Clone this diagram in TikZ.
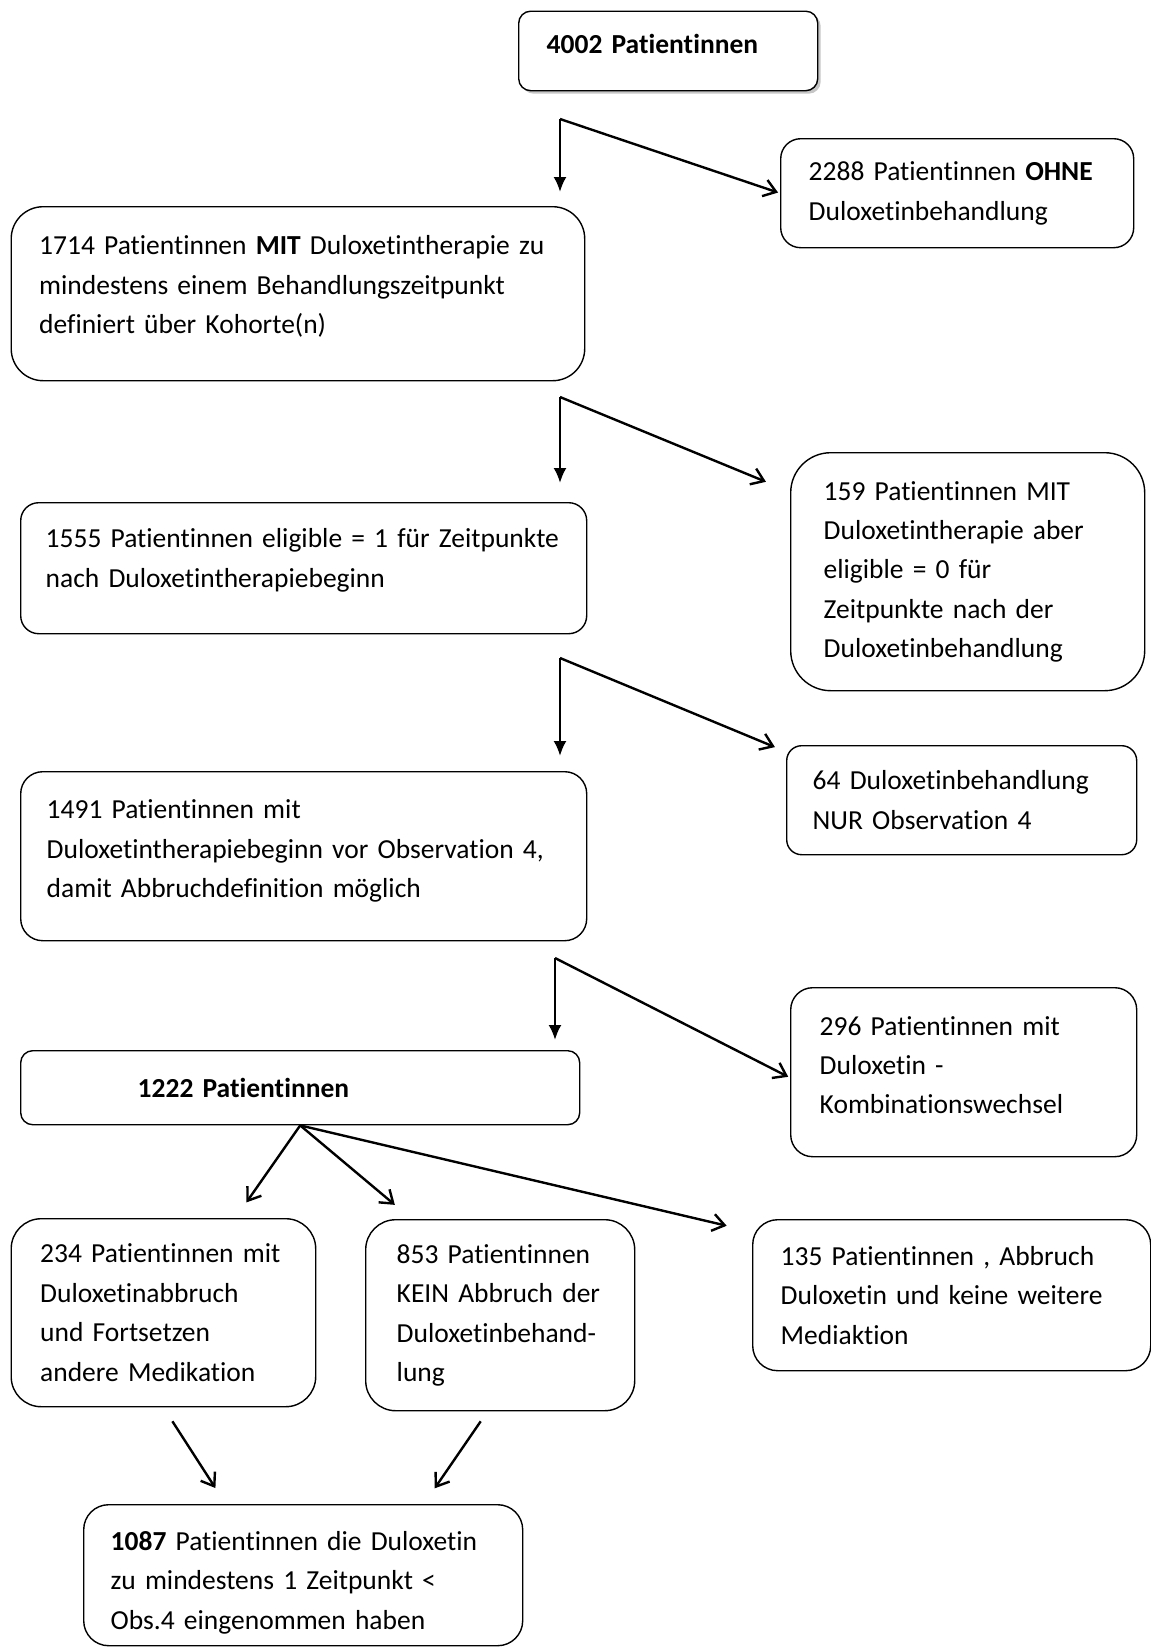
\documentclass[tikz,border=0pt]{standalone}
\usepackage{fontspec}
\setmainfont[Ligatures=NoCommon]{Carlito}
\usetikzlibrary{arrows.meta,shadows}
\newcommand{\padbottom}[1]{\par\vspace{#1}\hrule height0pt width0pt}

\begin{document}
\begin{tikzpicture}[x=1pt,y=-1pt,
  flowbox/.style={draw, fill=white, line width=1.4pt, rounded corners=22pt, anchor=north west,
    align=left, inner xsep=28pt, inner ysep=4pt, font=\fontsize{27.5}{39.4}\selectfont},
  downarrow/.style={line width=2.4pt, -{Latex[length=15pt,width=13pt]}},
  sidearrow/.style={line width=2.4pt, -{Straight Barb[length=12pt,width=17pt]}}]
\useasboundingbox (0,0) rectangle (1151,1647);

% boxes
\node [flowbox, rounded corners=12pt, text width=243pt, minimum height=79.5pt,
  drop shadow={opacity=0.45, shadow xshift=3pt, shadow yshift=-3pt}] (n4002) at (518,10.5)
  {\textbf{4002 Patientinnen}\padbottom{14pt}};
\node [flowbox, rounded corners=20pt, text width=297pt, minimum height=109pt] (n2288) at (780,138)
  {2288 Patientinnen \textbf{OHNE}\\Duloxetinbehandlung};
\node [flowbox, rounded corners=32pt, text width=517.5pt, minimum height=174pt] (n1714) at (10.5,206)
  {1714 Patientinnen \textbf{MIT} Duloxetintherapie zu\\mindestens einem Behandlungszeitpunkt\\definiert über Kohorte(n)\padbottom{14pt}};
\node [flowbox, rounded corners=40pt, inner xsep=33pt, text width=288pt, minimum height=238pt] (n159) at (790,452)
  {159 Patientinnen MIT\\Duloxetintherapie aber\\eligible = 0 für\\Zeitpunkte nach der\\Duloxetinbehandlung};
\node [flowbox, rounded corners=18pt, inner xsep=25pt, text width=516pt, minimum height=131pt] (n1555) at (20,502)
  {1555 Patientinnen eligible = 1 für Zeitpunkte\\nach Duloxetintherapiebeginn\padbottom{16pt}};
\node [flowbox, rounded corners=15pt, inner xsep=26pt, text width=298pt, minimum height=109pt] (n64) at (786,745)
  {64 Duloxetinbehandlung\\NUR Observation 4};
\node [flowbox, inner xsep=26pt, text width=514pt, minimum height=169pt] (n1491) at (20,771)
  {1491 Patientinnen mit\\Duloxetintherapiebeginn vor Observation 4,\\damit Abbruchdefinition möglich\padbottom{10pt}};
\node [flowbox, inner xsep=29pt, text width=288pt, minimum height=169pt] (n296) at (790,987)
  {296 Patientinnen mit\\Duloxetin -\\Kombinationswechsel\padbottom{14pt}};
\node [flowbox, rounded corners=12pt, inner xsep=117pt, text width=325pt, minimum height=74pt] (n1222) at (20,1050)
  {\textbf{1222 Patientinnen}};
\node [flowbox, rounded corners=30pt, inner xsep=29pt, text width=246.5pt, minimum height=188pt] (n234) at (10.5,1218)
  {234 Patientinnen mit\\Duloxetinabbruch\\und Fortsetzen\\andere Medikation};
\node [flowbox, rounded corners=30pt, inner xsep=31pt, text width=207pt, minimum height=191pt] (n853) at (365,1219)
  {853 Patientinnen\\KEIN Abbruch der\\Duloxetinbehand-\\lung};
\node [flowbox, rounded corners=25pt, text width=342pt, minimum height=151pt] (n135) at (752,1219)
  {135 Patientinnen , Abbruch\\Duloxetin und keine weitere\\Mediaktion};
\node [flowbox, rounded corners=25pt, inner xsep=27pt, text width=385pt, minimum height=141pt] (n1087) at (83,1504)
  {\rule{0pt}{34pt}\textbf{1087} Patientinnen die Duloxetin\\zu mindestens 1 Zeitpunkt <\\Obs.4 eingenommen haben};

% fork points
\coordinate (f1) at (560,119);
\coordinate (f2) at (560,397);
\coordinate (f3) at (560,658);
\coordinate (f4) at (555,958);

% arrows
\draw [downarrow, shorten >=14pt] (f1) -- (f1 |- n1714.north);
\draw [sidearrow, shorten >=2pt] (f1) -- (n2288.west);
\draw [downarrow, shorten >=19pt] (f2) -- (f2 |- n1555.north);
\draw [sidearrow, shorten >=26pt] (f2) -- ([yshift=80pt]n159.west);
\draw [downarrow, shorten >=15pt] (f3) -- (f3 |- n1491.north);
\draw [sidearrow, shorten >=12pt] (f3) -- ([yshift=48.5pt]n64.west);
\draw [downarrow, shorten >=10pt] (f4) -- (f4 |- n1222.north);
\draw [sidearrow, shorten >=2pt] (f4) -- ([yshift=-5.5pt]n296.west);

\draw [sidearrow, shorten >=19pt] (n1222.south) -- ([xshift=72pt]n234.north);
\draw [sidearrow, shorten >=22pt] (n1222.south) -- ([xshift=-88.5pt]n853.north);
\draw [sidearrow, shorten >=26pt] (n1222.south) -- ([yshift=63.5pt]n135.west);

\draw [sidearrow, shorten <=16.5pt, shorten >=19pt] (n234.south) -- ([xshift=-77.5pt]n1087.north);
\draw [sidearrow, shorten <=12pt, shorten >=19pt] ([xshift=-12.7pt]n853.south) -- ([xshift=120.7pt]n1087.north);

\end{tikzpicture}
\end{document}
